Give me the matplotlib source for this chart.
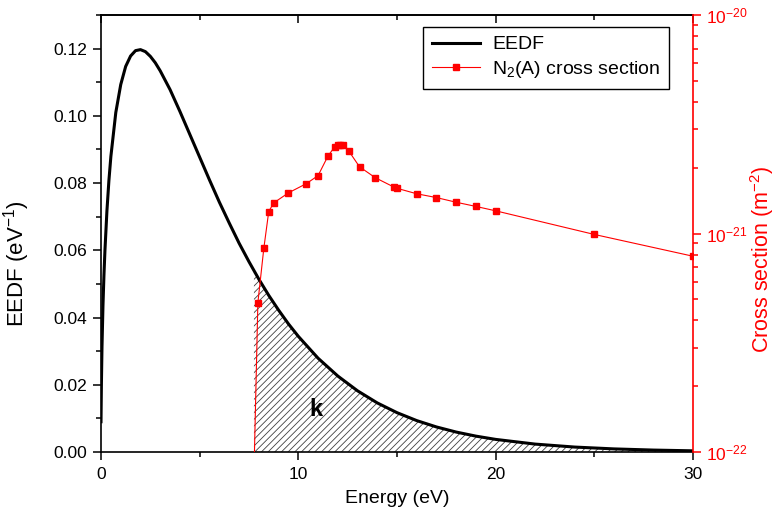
import numpy as np
import matplotlib
matplotlib.use("Agg")
import matplotlib.pyplot as plt
from matplotlib.ticker import MultipleLocator, FixedLocator, LogLocator, NullFormatter

plt.rcParams['font.family'] = ['Liberation Sans', 'DejaVu Sans']
plt.rcParams['mathtext.fontset'] = 'custom'
plt.rcParams['mathtext.rm'] = 'Liberation Sans'
plt.rcParams['mathtext.it'] = 'Liberation Sans:italic'
plt.rcParams['mathtext.bf'] = 'Liberation Sans:bold'
plt.rcParams['hatch.linewidth'] = 0.6

# EEDF (eV^-1) vs energy (eV)
eedf_energy = [0, 0.02, 0.05, 0.1, 0.15, 0.2, 0.3, 0.4, 0.5, 0.75, 1.0, 1.25, 1.5, 1.75,
               2.0, 2.25, 2.5, 2.75, 3.0, 3.5, 4, 4.5, 5, 5.5, 6, 6.5, 7, 7.5, 8, 8.5,
               9, 9.5, 10, 11, 12, 13, 14, 15, 16, 17, 18, 19, 20, 22, 24, 26, 28, 30]
eedf_values = [0.009, 0.0199, 0.0312, 0.0436, 0.0527, 0.0600, 0.0717, 0.0807, 0.0879,
               0.1010, 0.1093, 0.1147, 0.1178, 0.1194, 0.1197, 0.1191, 0.1177, 0.1158,
               0.1134, 0.1078, 0.1013, 0.0945, 0.0877, 0.0809, 0.0743, 0.0681, 0.0621,
               0.0566, 0.0514, 0.0466, 0.0422, 0.0381, 0.0344, 0.0279, 0.0226, 0.0182,
               0.0146, 0.0117, 0.00934, 0.00745, 0.00593, 0.00472, 0.00375, 0.00235,
               0.00147, 0.00092, 0.00057, 0.00035]

# N2(A) cross section (m^2) vs energy (eV)
xs_energy = [7.7, 7.95, 8.25, 8.5, 8.75, 9.5, 10.4, 11.0, 11.5, 11.85, 12.0, 12.1, 12.25,
             12.55, 13.1, 13.9, 14.85, 15.0, 16, 17, 18, 19, 20, 25, 30]
xs_values = [5e-23, 4.83e-22, 8.54e-22, 1.26e-21, 1.38e-21, 1.535e-21, 1.69e-21, 1.84e-21,
             2.26e-21, 2.50e-21, 2.55e-21, 2.55e-21, 2.53e-21, 2.39e-21, 2.02e-21, 1.80e-21,
             1.63e-21, 1.61e-21, 1.52e-21, 1.46e-21, 1.39e-21, 1.33e-21, 1.27e-21,
             9.9e-22, 7.87e-22]

threshold = 7.75
x_ticks = [0, 10, 20, 30]
y_ticks = [0, 0.02, 0.04, 0.06, 0.08, 0.10, 0.12]
y_ticklabels = ['0.00', '0.02', '0.04', '0.06', '0.08', '0.10', '0.12']
xs_ticks = [1e-22, 1e-21, 1e-20]

fig = plt.figure(figsize=(7.76, 5.24), dpi=100)
ax = fig.add_axes([101/776, 1-452/524, 592/776, 437/524])
ax2 = ax.twinx()

e = np.array(eedf_energy)
f = np.array(eedf_values)
ln1, = ax.plot(e, f, color='black', lw=2.2, label='EEDF', zorder=3)

# hatched region under EEDF above threshold
mask = e > threshold
fe = np.concatenate([[threshold], e[mask]])
ff = np.concatenate([[np.interp(threshold, e, f)], f[mask]])
ax.fill_between(fe, 0, ff, facecolor='none', edgecolor='0.25', linewidth=0,
                hatch='/////', zorder=2)
ax.text(10.9, 0.0125, 'k', fontsize=17, fontweight='bold', ha='center', va='center')

ax.set_xlim(0, 30)
ax.set_ylim(0, 0.13)
ax.set_xticks(x_ticks)
ax.xaxis.set_minor_locator(MultipleLocator(5))
ax.set_yticks(y_ticks)
ax.set_yticklabels(y_ticklabels)
ax.yaxis.set_minor_locator(MultipleLocator(0.01))
ax.tick_params(axis='both', which='major', direction='out', length=6, width=1.1,
               labelsize=12.5, pad=4)
ax.tick_params(axis='both', which='minor', direction='out', length=3.5, width=1.1)
ax.tick_params(axis='x', which='major', pad=5)
ax.set_xlabel('Energy (eV)', fontsize=14)
ax.xaxis.set_label_coords(0.5, -0.086)
ax.set_ylabel(r'EEDF (eV$^{-1}$)', fontsize=16)
ax.yaxis.set_label_coords(-0.117, 0.43)
for s in ['left', 'bottom', 'top']:
    ax.spines[s].set_linewidth(1.2)
ax.spines['right'].set_visible(False)

# top axis with inward ticks, no labels
top = ax.secondary_xaxis('top')
top.set_xticks(x_ticks)
top.xaxis.set_minor_locator(MultipleLocator(5))
top.tick_params(axis='x', which='major', direction='in', length=6, width=1.1,
                labeltop=False)
top.tick_params(axis='x', which='minor', direction='in', length=3.5, width=1.1)
top.spines['top'].set_linewidth(1.2)

ln2, = ax2.plot(xs_energy, xs_values, color='red', lw=0.8, marker='s', ms=4,
                label=r'N$_2$(A) cross section', zorder=4)
ax2.set_yscale('log')
ax2.set_ylim(1e-22, 1e-20)
ax2.yaxis.set_major_locator(FixedLocator(xs_ticks))
ax2.yaxis.set_minor_locator(LogLocator(base=10, subs=np.arange(2, 10), numticks=20))
ax2.yaxis.set_minor_formatter(NullFormatter())
ax2.tick_params(axis='y', which='major', direction='out', length=6, width=1.1,
                colors='red', labelsize=12.5)
ax2.tick_params(axis='y', which='minor', direction='out', length=3.5, width=1.1,
                colors='red')
ax2.spines['right'].set_color('red')
ax2.spines['right'].set_linewidth(1.2)
for s in ['left', 'bottom', 'top']:
    ax2.spines[s].set_visible(False)
ax2.set_ylabel(r'Cross section (m$^{-2}$)', fontsize=15.5, color='red')
ax2.yaxis.set_label_coords(1.093, 0.44)

leg = ax.legend(handles=[ln1, ln2], loc='upper right',
                bbox_to_anchor=(669/776, 1-27/524), bbox_transform=fig.transFigure,
                fontsize=14, frameon=True, fancybox=False, edgecolor='black',
                framealpha=1, borderaxespad=0, handlelength=2.5, borderpad=0.45,
                labelspacing=0.3, handletextpad=0.6)
leg.get_frame().set_linewidth(1.0)
leg.set_zorder(10)

fig.savefig('out.png', dpi=100)
